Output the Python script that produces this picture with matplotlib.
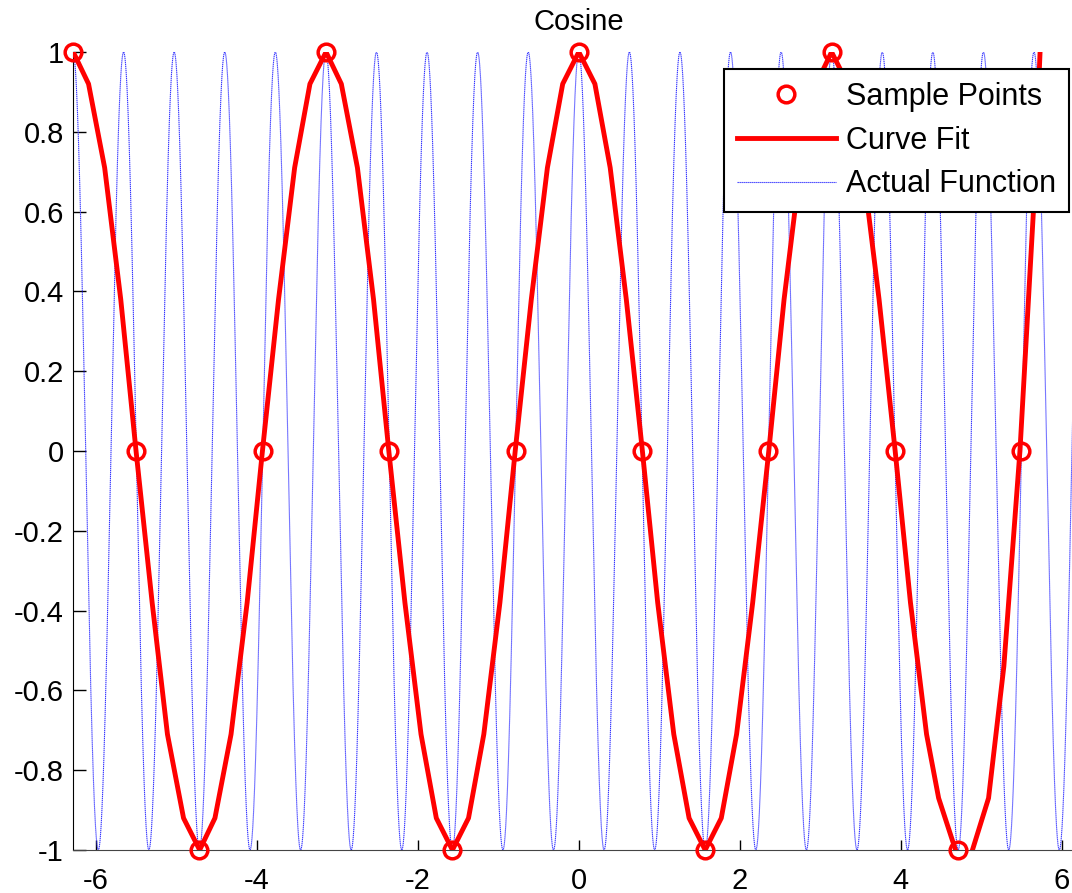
import numpy as np
import matplotlib.pyplot as plt

plt.rcParams['font.family'] = ['Liberation Sans', 'DejaVu Sans']

# sample points taken every pi/4 over [-2pi, 2pi]
sample_x = [-6.283, -5.498, -4.712, -3.927, -3.142, -2.356, -1.571, -0.785, 0.0,
            0.785, 1.571, 2.356, 3.142, 3.927, 4.712, 5.498, 6.283]
sample_y = [1, 0, -1, 0, 1, 0, -1, 0, 1, 0, -1, 0, 1, 0, -1, 0, 1]

# fitted curve through the samples
fit_x = [-6.28, -6.09, -5.89, -5.69, -5.50, -5.30, -5.11, -4.91, -4.71, -4.52,
         -4.32, -4.12, -3.93, -3.73, -3.53, -3.34, -3.14, -2.95, -2.75, -2.55,
         -2.36, -2.16, -1.96, -1.77, -1.57, -1.37, -1.18, -0.98, -0.79, -0.59,
         -0.39, -0.20, 0.00, 0.20, 0.39, 0.59, 0.79, 0.98, 1.18, 1.37,
         1.57, 1.77, 1.96, 2.16, 2.36, 2.55, 2.75, 2.95, 3.14, 3.34,
         3.53, 3.73, 3.93, 4.12, 4.32, 4.47, 4.68, 4.78, 4.89, 5.09,
         5.28, 5.48, 5.65, 5.73, 5.82]
fit_y = [1.00, 0.92, 0.71, 0.38, 0.00, -0.38, -0.71, -0.92, -1.00, -0.92,
         -0.71, -0.38, 0.00, 0.38, 0.71, 0.92, 1.00, 0.92, 0.71, 0.38,
         0.00, -0.38, -0.71, -0.92, -1.00, -0.92, -0.71, -0.38, 0.00, 0.38,
         0.71, 0.92, 1.00, 0.92, 0.71, 0.38, 0.00, -0.38, -0.71, -0.92,
         -1.00, -0.92, -0.71, -0.38, 0.00, 0.38, 0.71, 0.92, 1.00, 0.92,
         0.71, 0.38, 0.00, -0.38, -0.71, -0.87, -1.00, -1.06, -1.00, -0.87,
         -0.54, 0.00, 0.61, 1.00, 1.40]

# the actual function, cos(10x)
actual_freq = 10
actual_x = np.linspace(-2 * np.pi, 2 * np.pi, 4001)
actual_y = np.cos(actual_freq * actual_x)

xticks = [-6, -4, -2, 0, 2, 4, 6]
xtick_labels = ['-6', '-4', '-2', '0', '2', '4', '6']
yticks = [-1, -0.8, -0.6, -0.4, -0.2, 0, 0.2, 0.4, 0.6, 0.8, 1]
ytick_labels = ['-1', '-0.8', '-0.6', '-0.4', '-0.2', '0', '0.2', '0.4', '0.6', '0.8', '1']

W, H = 1072, 893
fig = plt.figure(figsize=(W / 100, H / 100), dpi=100)
ax = fig.add_axes([73 / W, 43 / H, 1011.6 / W, 798 / H])

ax.plot(sample_x, sample_y, 'o', color='red', ms=12, mew=2.5, mfc='none',
        clip_on=False, zorder=4, label='Sample Points')
ax.plot(fit_x, fit_y, '-', color='red', lw=3.5, zorder=3, label='Curve Fit')
ax.plot(actual_x, actual_y, color='#3535ff', lw=0.8, ls=(0, (1.2, 0.6)),
        zorder=2, label='Actual Function')

ax.set_xlim(-2 * np.pi, 2 * np.pi)
ax.set_ylim(-1, 1)
ax.set_xticks(xticks)
ax.set_xticklabels(xtick_labels)
ax.set_yticks(yticks)
ax.set_yticklabels(ytick_labels)
ax.tick_params(axis='both', labelsize=21, direction='in', colors='black', width=1)
ax.tick_params(axis='y', length=9, pad=6.5)
ax.tick_params(axis='x', length=7, pad=12)

ax.spines['top'].set_visible(False)
ax.spines['right'].set_visible(False)
ax.spines['left'].set_color('black')
ax.spines['bottom'].set_color('#444444')

ax.set_title('Cosine', fontsize=21, pad=16)

leg = ax.legend(loc='upper left', bbox_to_anchor=(724 / W, 1 - 69 / H),
                bbox_transform=fig.transFigure, borderaxespad=0, fontsize=22,
                frameon=True, fancybox=False, handlelength=3.25,
                handletextpad=0.33, borderpad=0.42, labelspacing=0.45)
leg.get_frame().set_edgecolor('black')
leg.get_frame().set_linewidth(1.5)
leg.get_frame().set_alpha(1)

fig.savefig('out.png', dpi=100)
